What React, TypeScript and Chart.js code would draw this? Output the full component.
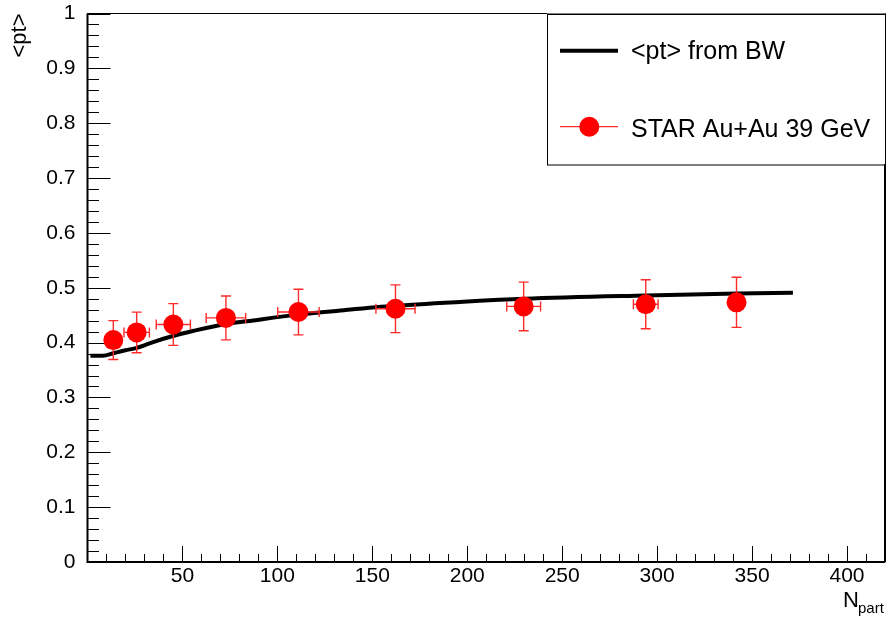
import React, { useEffect, useRef } from 'react';
import { Chart, registerables } from 'chart.js';

Chart.register(...registerables);

// Blast-wave curve <pt> vs Npart
const bwNpart = [1.5, 8, 14, 20, 26, 35, 45, 56, 73, 84, 111, 135, 162, 200, 230, 294, 342, 371.5];
const bwMeanPt = [0.376, 0.376, 0.381, 0.386, 0.3905, 0.4015, 0.412, 0.4215, 0.434, 0.439, 0.451, 0.459, 0.467, 0.475, 0.48, 0.486, 0.4895, 0.491];

// STAR Au+Au 39 GeV data
const starNpart = [13.6, 25.9, 45.2, 72.9, 111.1, 162.2, 229.7, 294, 341.8];
const starMeanPt = [0.4046, 0.4186, 0.433, 0.445, 0.4557, 0.4617, 0.466, 0.47, 0.4734];
const starErrY = [0.0355, 0.037, 0.038, 0.04, 0.0417, 0.0435, 0.0443, 0.0447, 0.0457];
const starErrX = [4, 6.7, 9, 10.4, 10.9, 10.3, 8.9, 6.5, 4];

// Axis ticks
const xTickValues = [50, 100, 150, 200, 250, 300, 350, 400];
const xTickLabels = ['50', '100', '150', '200', '250', '300', '350', '400'];
const yTickValues = [0, 0.1, 0.2, 0.3, 0.4, 0.5, 0.6, 0.7, 0.8, 0.9, 1];
const yTickLabels = ['0', '0.1', '0.2', '0.3', '0.4', '0.5', '0.6', '0.7', '0.8', '0.9', '1'];

const legendLabels = ['<pt> from BW', 'STAR Au+Au 39 GeV'];

const FONT = "'Liberation Sans', Arial, Helvetica, sans-serif";

const rootPlugin = {
  id: 'rootStyle',
  beforeDatasetsDraw(chart: any) {
    const { ctx, chartArea: a, scales } = chart;
    const x = scales.x;
    const y = scales.y;
    ctx.save();
    ctx.strokeStyle = '#000';
    ctx.lineWidth = 1;
    // y ticks (inside)
    for (let i = 0; i <= 50; i++) {
      const py = Math.round(y.getPixelForValue(i / 50)) + 0.5;
      const len = i % 5 === 0 ? 23 : 11.5;
      ctx.beginPath();
      ctx.moveTo(a.left, py);
      ctx.lineTo(a.left + len, py);
      ctx.stroke();
    }
    // x ticks (inside)
    for (let v = 10; v < x.max; v += 10) {
      const px = Math.round(x.getPixelForValue(v)) + 0.5;
      const len = v % 50 === 0 ? 16 : 8;
      ctx.beginPath();
      ctx.moveTo(px, a.bottom);
      ctx.lineTo(px, a.bottom - len);
      ctx.stroke();
    }
    // frame
    ctx.lineWidth = 1;
    ctx.strokeRect(a.left, a.top, a.right - a.left, a.bottom - a.top);
    ctx.lineWidth = 2;
    ctx.beginPath();
    ctx.moveTo(a.left, a.top);
    ctx.lineTo(a.left, a.bottom);
    ctx.lineTo(a.right, a.bottom);
    ctx.moveTo(a.right, a.top);
    ctx.lineTo(a.right, a.bottom);
    ctx.stroke();
    ctx.restore();
  },
  beforeDatasetDraw(chart: any, args: any) {
    if (args.index !== 0) return;
    const { ctx, scales } = chart;
    const x = scales.x;
    const y = scales.y;
    ctx.save();
    ctx.strokeStyle = '#ff2a2a';
    ctx.lineWidth = 1.4;
    const cap = 5;
    for (let i = 0; i < starNpart.length; i++) {
      const px = x.getPixelForValue(starNpart[i]);
      const py = y.getPixelForValue(starMeanPt[i]);
      const yTop = y.getPixelForValue(starMeanPt[i] + starErrY[i]);
      const yBot = y.getPixelForValue(starMeanPt[i] - starErrY[i]);
      const xL = x.getPixelForValue(starNpart[i] - starErrX[i]);
      const xR = x.getPixelForValue(starNpart[i] + starErrX[i]);
      ctx.beginPath();
      ctx.moveTo(px, yTop);
      ctx.lineTo(px, yBot);
      ctx.moveTo(px - cap, yTop);
      ctx.lineTo(px + cap, yTop);
      ctx.moveTo(px - cap, yBot);
      ctx.lineTo(px + cap, yBot);
      ctx.moveTo(xL, py);
      ctx.lineTo(xR, py);
      ctx.moveTo(xL, py - cap);
      ctx.lineTo(xL, py + cap);
      ctx.moveTo(xR, py - cap);
      ctx.lineTo(xR, py + cap);
      ctx.stroke();
    }
    ctx.restore();
  },
  afterDraw(chart: any) {
    const { ctx, chartArea: a } = chart;
    ctx.save();
    // Axis titles
    ctx.fillStyle = '#000';
    ctx.font = `22px ${FONT}`;
    ctx.textBaseline = 'alphabetic';
    ctx.textAlign = 'left';
    ctx.fillText('N', 843, 606.5);
    ctx.font = `15px ${FONT}`;
    ctx.fillText('part', 858, 613);

    ctx.save();
    ctx.translate(26, a.top);
    ctx.rotate(-Math.PI / 2);
    ctx.font = `22px ${FONT}`;
    ctx.textAlign = 'right';
    ctx.fillText('<pt>', 0, 0);
    ctx.restore();

    // Legend
    const lw = 338;
    const lh = 150.5;
    const lx = a.right - lw;
    const ly = a.top;
    ctx.fillStyle = '#fff';
    ctx.fillRect(lx, ly, lw, lh);
    ctx.strokeStyle = '#000';
    ctx.lineWidth = 1;
    ctx.strokeRect(Math.round(lx) + 0.5, Math.round(ly) + 0.5, lw, lh);

    // entry 1
    ctx.strokeStyle = '#000';
    ctx.lineWidth = 4;
    ctx.beginPath();
    ctx.moveTo(lx + 13, ly + 37.2);
    ctx.lineTo(lx + 71, ly + 37.2);
    ctx.stroke();
    ctx.fillStyle = '#000';
    ctx.font = `25px ${FONT}`;
    ctx.textAlign = 'left';
    ctx.textBaseline = 'alphabetic';
    ctx.fillText(legendLabels[0], lx + 84, ly + 45);

    // entry 2
    ctx.strokeStyle = '#ff2a2a';
    ctx.lineWidth = 1.2;
    ctx.beginPath();
    ctx.moveTo(lx + 13, ly + 113.2);
    ctx.lineTo(lx + 71, ly + 113.2);
    ctx.stroke();
    ctx.fillStyle = '#ff0000';
    ctx.beginPath();
    ctx.arc(lx + 42.3, ly + 113.2, 10, 0, Math.PI * 2);
    ctx.fill();
    ctx.fillStyle = '#000';
    ctx.fillText(legendLabels[1], lx + 84, ly + 123);
    ctx.restore();
  },
};

export default function App() {
  const canvasRef = useRef<HTMLCanvasElement | null>(null);

  useEffect(() => {
    if (!canvasRef.current) return;
    const chart = new Chart(canvasRef.current, {
      type: 'scatter',
      data: {
        datasets: [
          {
            label: legendLabels[1],
            data: starNpart.map((v, i) => ({ x: v, y: starMeanPt[i] })),
            backgroundColor: '#ff0000',
            borderWidth: 0,
            pointRadius: 10,
            pointHoverRadius: 10,
            showLine: false,
          },
          {
            label: legendLabels[0],
            data: bwNpart.map((v, i) => ({ x: v, y: bwMeanPt[i] })),
            borderColor: '#000',
            borderWidth: 4,
            pointRadius: 0,
            showLine: true,
            fill: false,
            cubicInterpolationMode: 'monotone',
            borderCapStyle: 'butt',
          } as any,
        ],
      },
      options: {
        animation: false,
        responsive: false,
        maintainAspectRatio: false,
        events: [],
        layout: { autoPadding: false, padding: { left: 0, right: 2, top: 13.5, bottom: 0 } },
        plugins: {
          legend: { display: false },
          tooltip: { enabled: false },
        },
        scales: {
          x: {
            type: 'linear',
            min: 0,
            max: 420,
            afterFit: (s: any) => {
              s.height = 57;
              s.paddingLeft = 0;
              s.paddingRight = 0;
              s.paddingTop = 0;
              s.paddingBottom = 0;
            },
            afterBuildTicks: (s: any) => {
              s.ticks = xTickValues.map((v) => ({ value: v }));
            },
            grid: { display: false, drawTicks: false },
            border: { display: false },
            ticks: {
              color: '#000',
              font: { family: FONT, size: 21 },
              padding: 2,
              maxRotation: 0,
              autoSkip: false,
              callback: (v: any) => {
                const i = xTickValues.indexOf(Number(v));
                return i >= 0 ? xTickLabels[i] : '';
              },
            },
          },
          y: {
            type: 'linear',
            min: 0,
            max: 1,
            afterFit: (s: any) => {
              s.width = 87.5;
              s.paddingLeft = 0;
              s.paddingRight = 0;
              s.paddingTop = 0;
              s.paddingBottom = 0;
            },
            afterBuildTicks: (s: any) => {
              s.ticks = yTickValues.map((v) => ({ value: v }));
            },
            grid: { display: false, drawTicks: false },
            border: { display: false },
            ticks: {
              color: '#000',
              font: { family: FONT, size: 21 },
              padding: 12,
              autoSkip: false,
              callback: (v: any) => {
                const i = yTickValues.findIndex((t) => Math.abs(t - Number(v)) < 1e-9);
                return i >= 0 ? yTickLabels[i] : '';
              },
            },
          },
        },
      },
      plugins: [rootPlugin],
    });
    return () => chart.destroy();
  }, []);

  return (
    <div style={{ position: 'absolute', left: 0, top: 0, width: 887, height: 619, background: '#fff' }}>
      <canvas ref={canvasRef} width={887} height={619} style={{ display: 'block' }} />
    </div>
  );
}
